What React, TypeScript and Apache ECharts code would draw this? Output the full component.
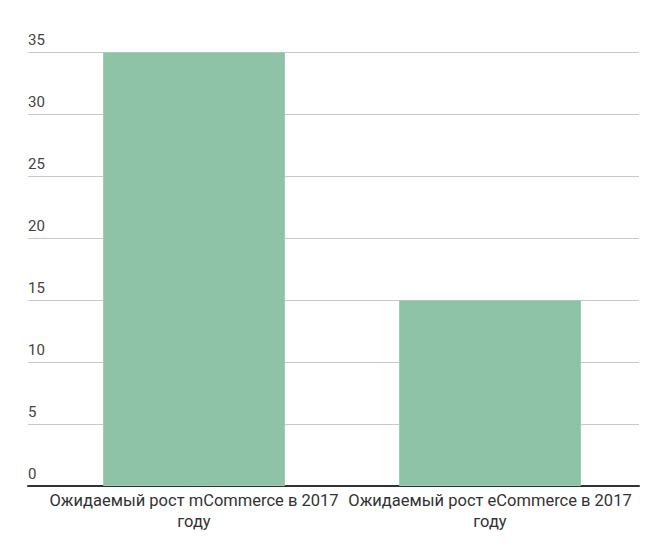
import { useEffect, useRef } from 'react';
import * as echarts from 'echarts';

const categories = ['Ожидаемый рост mCommerce в 2017 году', 'Ожидаемый рост eCommerce в 2017 году'];
const growthValues = [35, 15];
const yMin = 0;
const yMax = 35;
const yStep = 5;

const App = () => {
    const chartRef = useRef<HTMLDivElement>(null);

    useEffect(() => {
        if (!chartRef.current) return;
        const chart = echarts.init(chartRef.current, undefined, { renderer: 'svg' });

        const textColor = '#444';
        const font = 'Roboto';

        chart.setOption({
            animation: false,
            backgroundColor: '#fff',
            grid: [
                { left: 28, right: 25, top: 52, bottom: 71 },
                { left: 46, right: 26, top: 52, bottom: 71 }
            ],
            xAxis: [
                {
                    gridIndex: 0,
                    type: 'value',
                    min: 0,
                    max: 1,
                    axisLabel: { show: false },
                    axisTick: { show: false },
                    splitLine: { show: false },
                    axisLine: { show: true, onZero: false, lineStyle: { color: '#333', width: 2 } }
                },
                {
                    gridIndex: 1,
                    type: 'category',
                    data: categories,
                    axisLine: { show: false },
                    axisTick: { show: false },
                    axisLabel: {
                        interval: 0,
                        hideOverlap: false,
                        color: '#333',
                        fontFamily: font,
                        fontSize: 16.5,
                        lineHeight: 21,
                        margin: 4,
                        // wrap the last word like the source chart does
                        formatter: (v: string) => v.replace(/ (\S+)$/, '\n$1')
                    }
                }
            ],
            yAxis: [
                {
                    gridIndex: 0,
                    type: 'value',
                    min: yMin,
                    max: yMax,
                    interval: yStep,
                    axisLine: { show: false },
                    axisTick: { show: false },
                    splitLine: { lineStyle: { color: '#c8c8c8', width: 1 } },
                    axisLabel: {
                        inside: true,
                        margin: 0,
                        align: 'left',
                        verticalAlign: 'bottom',
                        padding: [0, 0, 5, 0],
                        color: textColor,
                        fontFamily: font,
                        fontSize: 15
                    }
                },
                {
                    gridIndex: 1,
                    type: 'value',
                    min: yMin,
                    max: yMax,
                    interval: yStep,
                    show: false,
                    splitLine: { show: false }
                }
            ],
            series: [
                {
                    type: 'bar',
                    xAxisIndex: 1,
                    yAxisIndex: 1,
                    data: growthValues,
                    barCategoryGap: '38.5%',
                    itemStyle: { color: '#8fc3a7', borderColor: '#9fccb3', borderWidth: 1 },
                    z: 1
                }
            ]
        });

        return () => {
            chart.dispose();
        };
    }, []);

    return <div ref={chartRef} style={{ width: 664, height: 557, margin: -8 }} />;
};

export default App;
